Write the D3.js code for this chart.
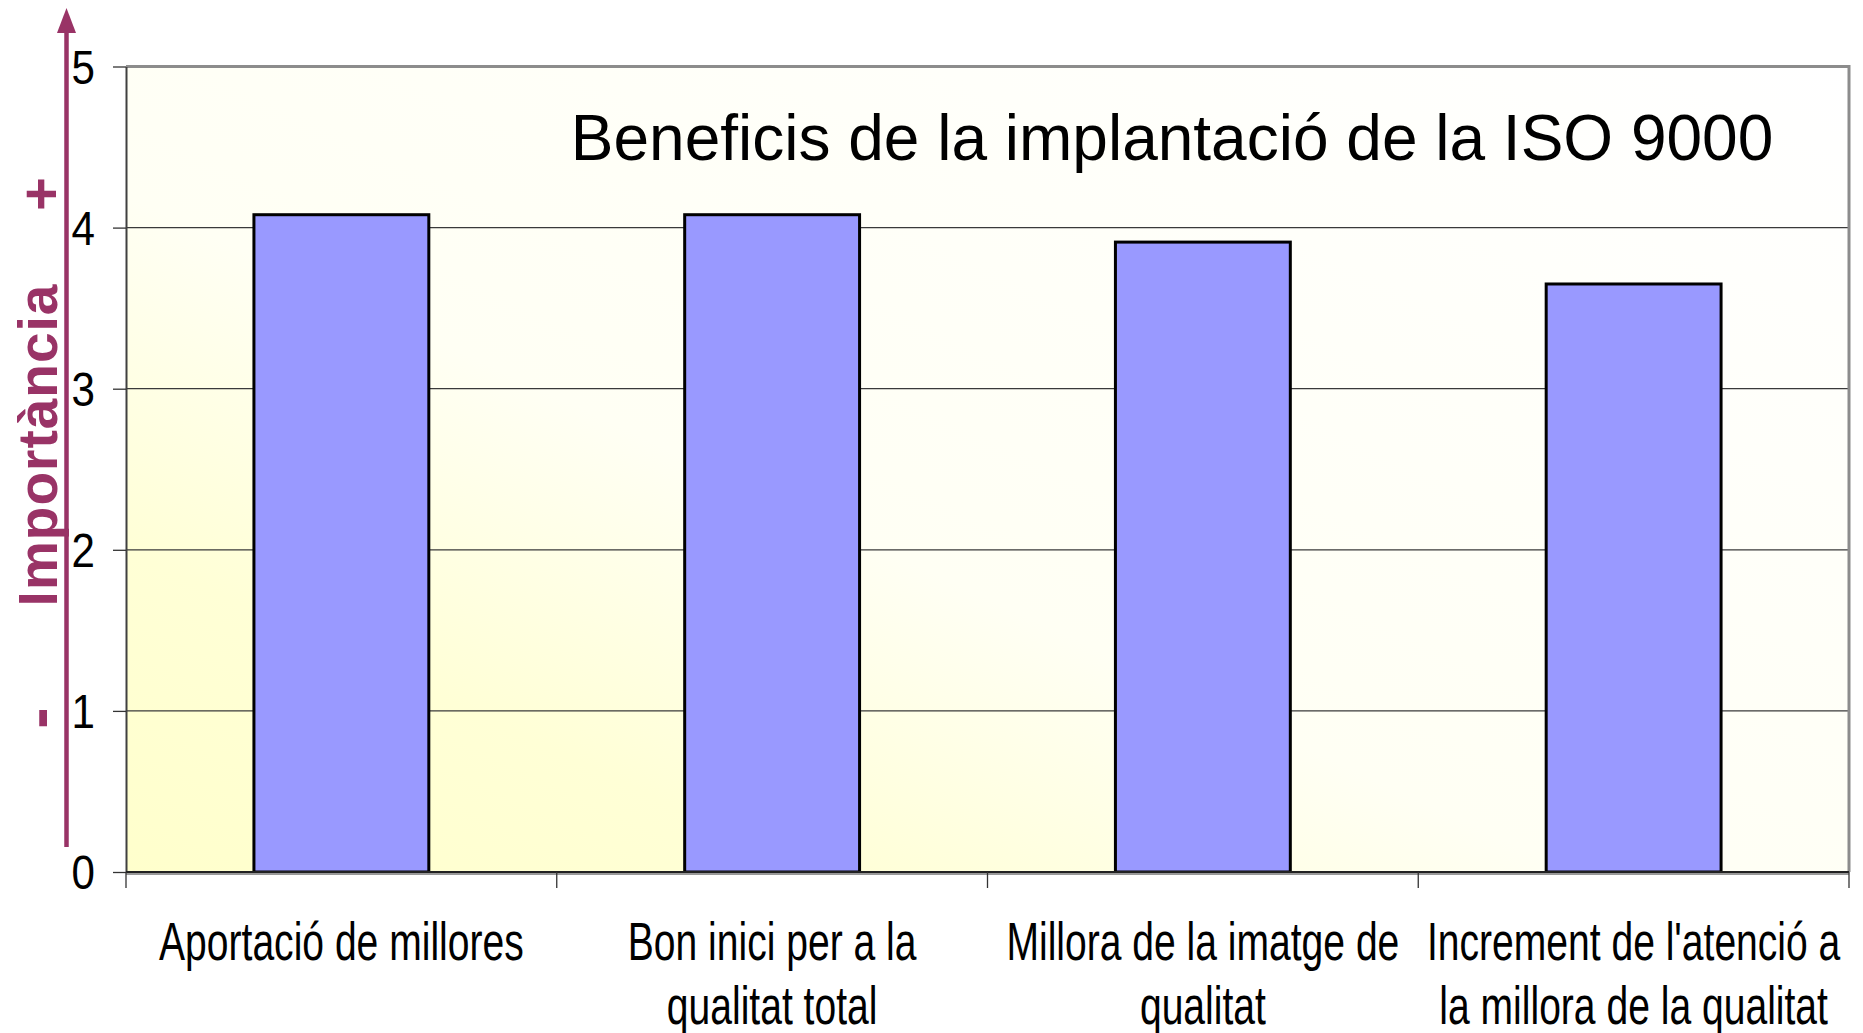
<!DOCTYPE html>
<html>
<head>
<meta charset="utf-8">
<script src="https://cdn.jsdelivr.net/npm/d3@7"></script>
<style>
  body { margin: 0; background: #fff; }
  svg { display: block; }
  text { font-family: "Liberation Sans", Arial, sans-serif; }
</style>
</head>
<body>
<div id="chart"></div>
<script>
// data
var categories = [
    "Aportació de millores",
    "Bon inici per a la qualitat total",
    "Millora de la imatge de qualitat",
    "Increment de l'atenció a la millora de la qualitat"
];
var labelLines = [
    ["Aportació de millores"],
    ["Bon inici per a la", "qualitat total"],
    ["Millora de la imatge de", "qualitat"],
    ["Increment de l'atenció a", "la millora de la qualitat"]
];
var values = [4.08, 4.08, 3.91, 3.65];
var yTicks = [0, 1, 2, 3, 4, 5];
var title = "Beneficis de la implantació de la ISO 9000";
var axisTitle = "Importància";

var width = 1863, height = 1033;
var plot = { left: 126, right: 1849, top: 66.5, bottom: 872 };
var plum = "#993366";

var svg = d3.select("#chart")
    .append("svg")
    .attr("width", width)
    .attr("height", height);

var xScale = d3.scaleBand()
    .domain(categories)
    .range([plot.left, plot.right])
    .paddingInner(0.594)
    .paddingOuter(0.297);

var xSlots = d3.scaleBand()   // slots between the category ticks
    .domain(categories)
    .range([plot.left, plot.right]);

var yScale = d3.scaleLinear()
    .domain([0, 5])
    .range([plot.bottom, plot.top]);

// background gradient, pale yellow bottom left fading to white
var grad = svg.append("defs")
    .append("linearGradient")
    .attr("id", "bg")
    .attr("x1", 0).attr("y1", 1)
    .attr("x2", 1).attr("y2", 0);
grad.append("stop").attr("offset", 0).attr("stop-color", "#ffffcc");
grad.append("stop").attr("offset", 0.2).attr("stop-color", "#ffffd6");
grad.append("stop").attr("offset", 0.42).attr("stop-color", "#fffff4");
grad.append("stop").attr("offset", 1).attr("stop-color", "#ffffff");

svg.append("rect")
    .attr("x", plot.left)
    .attr("y", plot.top)
    .attr("width", plot.right - plot.left)
    .attr("height", plot.bottom - plot.top)
    .attr("fill", "url(#bg)");

// gridlines
svg.append("g")
    .selectAll("line")
    .data(yTicks.filter(d => d > 0 && d < 5))
    .enter()
    .append("line")
    .attr("x1", plot.left)
    .attr("x2", plot.right)
    .attr("y1", d => yScale(d))
    .attr("y2", d => yScale(d))
    .attr("stroke", "#3a3a3a")
    .attr("stroke-width", 1.3);

// top and right border
svg.append("path")
    .attr("d", "M" + plot.left + "," + yScale(5) + "H" + plot.right + "V" + plot.bottom)
    .attr("fill", "none")
    .attr("stroke", "#8c8c8c")
    .attr("stroke-width", 3);

// bars
svg.append("g")
    .selectAll("rect")
    .data(values)
    .enter()
    .append("rect")
    .attr("x", (d, i) => xScale(categories[i]))
    .attr("y", d => yScale(d))
    .attr("width", xScale.bandwidth())
    .attr("height", d => yScale(0) - yScale(d))
    .attr("fill", "#9999ff")
    .attr("stroke", "#000")
    .attr("stroke-width", 3);

// y axis
var yAxis = svg.append("g")
    .attr("transform", "translate(" + plot.left + ",0)")
    .call(d3.axisLeft(yScale)
        .tickValues(yTicks)
        .tickSize(13)
        .tickSizeOuter(0)
        .tickFormat(""));
yAxis.select(".domain").attr("stroke", "#404040").attr("stroke-width", 2);
yAxis.selectAll(".tick line").attr("stroke", "#333").attr("stroke-width", 1.3);

svg.append("g")
    .selectAll("text")
    .data(yTicks)
    .enter()
    .append("text")
    .attr("transform", d => "translate(95," + (yScale(d) + 17) + ") scale(0.86,1)")
    .attr("text-anchor", "end")
    .style("font-size", "49px")
    .attr("fill", "#000")
    .text(d => d);

// x axis line with shadow
svg.append("line")
    .attr("x1", plot.left).attr("x2", plot.right)
    .attr("y1", plot.bottom + 2).attr("y2", plot.bottom + 2)
    .attr("stroke", "#999").attr("stroke-width", 2);
svg.append("line")
    .attr("x1", plot.left).attr("x2", plot.right)
    .attr("y1", plot.bottom).attr("y2", plot.bottom)
    .attr("stroke", "#222").attr("stroke-width", 2);

var boundaries = categories.map(c => xSlots(c)).concat([plot.right]);
svg.append("g")
    .selectAll("line")
    .data(boundaries)
    .enter()
    .append("line")
    .attr("x1", d => d).attr("x2", d => d)
    .attr("y1", plot.bottom).attr("y2", plot.bottom + 16)
    .attr("stroke", "#333")
    .attr("stroke-width", 1.3);

// category labels (condensed type)
var catLabels = svg.append("g")
    .selectAll("g")
    .data(labelLines)
    .enter()
    .append("g")
    .attr("transform", (d, i) => "translate(" + (xSlots(categories[i]) + xSlots.bandwidth() / 2) + ",0)");
catLabels.selectAll("text")
    .data(d => d)
    .enter()
    .append("text")
    .attr("transform", (d, j) => "translate(0," + (960 + j * 64) + ") scale(0.737,1)")
    .attr("text-anchor", "middle")
    .style("font-size", "53px")
    .attr("fill", "#000")
    .text(d => d);

// title
svg.append("text")
    .attr("x", 1172)
    .attr("y", 160)
    .attr("text-anchor", "middle")
    .style("font-size", "64px")
    .attr("fill", "#000")
    .text(title);

// importance arrow
svg.append("line")
    .attr("x1", 66.5).attr("x2", 66.5)
    .attr("y1", 847).attr("y2", 30)
    .attr("stroke", plum)
    .attr("stroke-width", 4.5);
svg.append("path")
    .attr("d", "M66.5,8 L76,33 L57,33 Z")
    .attr("fill", plum);

svg.append("text")
    .attr("transform", "translate(57,445) rotate(-90)")
    .attr("text-anchor", "middle")
    .style("font-size", "55px")
    .style("font-weight", "bold")
    .style("letter-spacing", "1px")
    .attr("fill", plum)
    .text(axisTitle);

svg.append("text")
    .attr("transform", "translate(41,194) rotate(-90)")
    .attr("text-anchor", "middle")
    .attr("dy", "0.35em")
    .style("font-size", "58px")
    .style("font-weight", "bold")
    .attr("fill", plum)
    .text("+");

svg.append("text")
    .attr("transform", "translate(38,718) rotate(-90)")
    .attr("text-anchor", "middle")
    .attr("dy", "0.35em")
    .style("font-size", "64px")
    .style("font-weight", "bold")
    .attr("fill", plum)
    .text("-");
</script>
</body>
</html>
